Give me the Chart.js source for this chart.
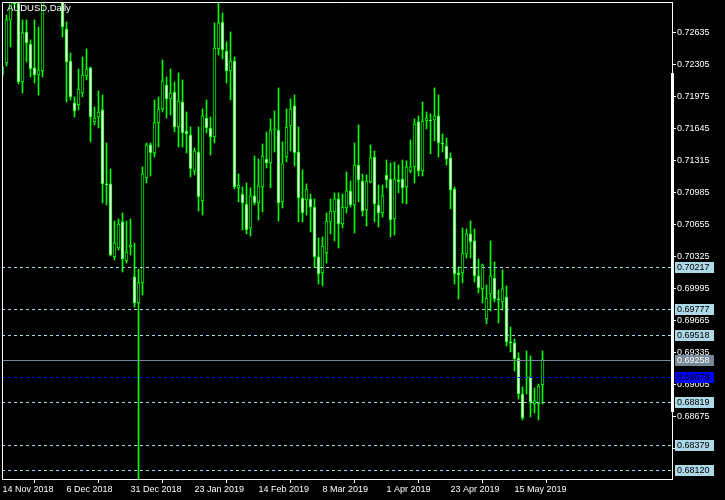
<!DOCTYPE html>
<html>
<head>
<meta charset="utf-8">
<title>AUDUSD Daily</title>
<script src="https://cdn.jsdelivr.net/npm/chart.js@4.4.0/dist/chart.umd.min.js"></script>
<style>
    html, body { margin: 0; padding: 0; background: #000; }
    #wrap { width: 725px; height: 500px; }
</style>
</head>
<body>
<div id="wrap"><canvas id="chart" width="725" height="500"></canvas></div>
<script>
// Chart data (daily candles, 14 Nov 2018 .. 24 May 2019)
const symbolTitle = 'AUDUSD,Daily';

const opens = [
    0.72205, 0.72318, 0.72762, 0.72980, 0.72937, 0.72122, 0.72638, 0.72514, 0.72267, 0.72195,
    0.72236, 0.73160, 0.73120, 0.73300, 0.73650, 0.73200, 0.72669, 0.72339, 0.71906, 0.71885,
    0.72009, 0.72184, 0.72267, 0.71710, 0.71761, 0.71834, 0.71071, 0.71071, 0.70318, 0.70410,
    0.70679, 0.70276, 0.70421, 0.70112, 0.69843, 0.70050, 0.71132, 0.71473, 0.71390, 0.71700,
    0.71844, 0.72091, 0.71947, 0.72019, 0.71658, 0.71916, 0.71617, 0.71576, 0.71204, 0.71400,
    0.70895, 0.71751, 0.71648, 0.71555, 0.72463, 0.72741, 0.72442, 0.72236, 0.72339, 0.71030,
    0.70967, 0.70864, 0.70617, 0.70947, 0.70875, 0.71040, 0.71328, 0.71287, 0.71627, 0.71627,
    0.70885, 0.71349, 0.71669, 0.71875, 0.71400, 0.70926, 0.70906, 0.70916, 0.70833, 0.70318,
    0.70153, 0.70359, 0.70679, 0.70782, 0.70916, 0.70658, 0.70823, 0.70999, 0.70854, 0.71266,
    0.71101, 0.70802, 0.71091, 0.71349, 0.70854, 0.70771, 0.71163, 0.71122, 0.70710, 0.71112,
    0.71122, 0.71040, 0.71204, 0.71246, 0.71710, 0.71204, 0.71720, 0.71730, 0.71730, 0.71772,
    0.71493, 0.71462, 0.71339, 0.71019, 0.70153, 0.70153, 0.70349, 0.70555, 0.70483, 0.70122,
    0.69988, 0.69678, 0.69936, 0.70101, 0.69885, 0.69854, 0.69905, 0.69441, 0.69431, 0.69276,
    0.68905, 0.69080, 0.69080, 0.68802, 0.68802, 0.68998
];
const highs = [
    0.72287, 0.72813, 0.73030, 0.73060, 0.73020, 0.72762, 0.72762, 0.72556, 0.72762, 0.72690,
    0.73250, 0.73360, 0.73300, 0.73940, 0.73800, 0.73300, 0.72741, 0.72421, 0.71968, 0.72256,
    0.72380, 0.72463, 0.72277, 0.71865, 0.72030, 0.71988, 0.71493, 0.71225, 0.70689, 0.70710,
    0.70771, 0.70689, 0.70710, 0.70462, 0.70194, 0.71246, 0.71493, 0.71493, 0.71937, 0.71968,
    0.72349, 0.72174, 0.72256, 0.72122, 0.72215, 0.72143, 0.71813, 0.71658, 0.71442, 0.71658,
    0.71844, 0.71937, 0.71761, 0.72731, 0.72937, 0.72834, 0.72535, 0.72638, 0.72380, 0.71174,
    0.71040, 0.71081, 0.71030, 0.71359, 0.71328, 0.71483, 0.71607, 0.71741, 0.71823, 0.72061,
    0.71504, 0.71844, 0.71947, 0.71988, 0.71658, 0.71215, 0.71071, 0.70967, 0.70916, 0.70514,
    0.70524, 0.70771, 0.70916, 0.70978, 0.70978, 0.70967, 0.71194, 0.71101, 0.71493, 0.71679,
    0.71174, 0.71163, 0.71473, 0.71411, 0.71060, 0.71060, 0.71318, 0.71287, 0.71297, 0.71266,
    0.71318, 0.71308, 0.71524, 0.71741, 0.71772, 0.71916, 0.71813, 0.71792, 0.72061, 0.71988,
    0.71586, 0.71545, 0.71390, 0.71040, 0.70215, 0.70617, 0.70606, 0.70689, 0.70606, 0.70297,
    0.70245, 0.70029, 0.70483, 0.70266, 0.69977, 0.70184, 0.70019, 0.69596, 0.69472, 0.69328,
    0.68977, 0.69348, 0.69297, 0.68967, 0.69008, 0.69348
];
const lows = [
    0.72174, 0.72287, 0.72483, 0.72886, 0.72102, 0.72009, 0.72329, 0.72174, 0.72112, 0.71988,
    0.72174, 0.73020, 0.73000, 0.73250, 0.73050, 0.72586, 0.71916, 0.71937, 0.71761, 0.71834,
    0.71968, 0.72143, 0.71504, 0.71679, 0.71648, 0.70875, 0.70854, 0.70328, 0.70287, 0.70390,
    0.70163, 0.70256, 0.70338, 0.69802, 0.67400, 0.69926, 0.71081, 0.71153, 0.71349, 0.71452,
    0.71813, 0.71751, 0.71782, 0.71607, 0.71452, 0.71452, 0.71390, 0.71143, 0.71163, 0.70792,
    0.70751, 0.71596, 0.71370, 0.71493, 0.72401, 0.72360, 0.72112, 0.71937, 0.71019, 0.70885,
    0.70596, 0.70555, 0.70534, 0.70854, 0.70699, 0.70782, 0.71235, 0.71030, 0.71400, 0.70689,
    0.70823, 0.71297, 0.71411, 0.71256, 0.70679, 0.70679, 0.70751, 0.70575, 0.70215, 0.70039,
    0.70019, 0.70256, 0.70555, 0.70483, 0.70410, 0.70617, 0.70771, 0.70833, 0.70565, 0.70885,
    0.70740, 0.70637, 0.71081, 0.70679, 0.70627, 0.70730, 0.71030, 0.70524, 0.70545, 0.70978,
    0.70875, 0.70864, 0.71184, 0.71081, 0.71153, 0.71153, 0.71638, 0.71380, 0.71514, 0.71349,
    0.71400, 0.71266, 0.70813, 0.70039, 0.69885, 0.70050, 0.70307, 0.70307, 0.70060, 0.69946,
    0.69843, 0.69627, 0.69761, 0.69854, 0.69637, 0.69771, 0.69400, 0.69338, 0.69142, 0.68853,
    0.68637, 0.68905, 0.68668, 0.68709, 0.68637, 0.68802
];
const closes = [
    0.72277, 0.72762, 0.72980, 0.72927, 0.72122, 0.72628, 0.72525, 0.72256, 0.72195, 0.72246,
    0.73160, 0.73120, 0.73100, 0.73650, 0.73200, 0.72690, 0.72329, 0.71968, 0.71823, 0.72050,
    0.72195, 0.72256, 0.71761, 0.71751, 0.71813, 0.71071, 0.71060, 0.70338, 0.70462, 0.70658,
    0.70297, 0.70369, 0.70441, 0.69843, 0.70050, 0.71174, 0.71473, 0.71390, 0.71700, 0.71844,
    0.72133, 0.71947, 0.72009, 0.71658, 0.71926, 0.71596, 0.71586, 0.71225, 0.71411, 0.70937,
    0.71772, 0.71648, 0.71555, 0.72473, 0.72731, 0.72452, 0.72236, 0.72339, 0.71040, 0.71060,
    0.70875, 0.70596, 0.70947, 0.70875, 0.71050, 0.71359, 0.71287, 0.71627, 0.71638, 0.70875,
    0.71277, 0.71658, 0.71844, 0.71390, 0.70926, 0.70771, 0.71019, 0.70833, 0.70318, 0.70143,
    0.70431, 0.70689, 0.70792, 0.70916, 0.70658, 0.70833, 0.70999, 0.70854, 0.71266, 0.71112,
    0.70792, 0.71101, 0.71339, 0.70864, 0.70771, 0.70947, 0.71112, 0.70699, 0.71122, 0.71091,
    0.71030, 0.71246, 0.71246, 0.71689, 0.71204, 0.71720, 0.71751, 0.71720, 0.71772, 0.71493,
    0.71483, 0.71328, 0.71009, 0.70143, 0.70132, 0.70359, 0.70555, 0.70472, 0.70122, 0.69998,
    0.70235, 0.69895, 0.70122, 0.69885, 0.69874, 0.69988, 0.69441, 0.69431, 0.69266, 0.68905,
    0.68658, 0.69070, 0.68822, 0.68833, 0.68987, 0.69258
];

// time axis labels, one every 16 bars
const tickBars = [0, 16, 32, 48, 64, 80, 96, 112, 128];
const tickLabels = ['14 Nov 2018', '6 Dec 2018', '31 Dec 2018', '23 Jan 2019', '14 Feb 2019',
                    '8 Mar 2019', '1 Apr 2019', '23 Apr 2019', '15 May 2019'];

// price scale
const priceTicks = [0.68345, 0.68675, 0.69005, 0.69335, 0.69665, 0.69995, 0.70325,
                    0.70655, 0.70985, 0.71315, 0.71645, 0.71975, 0.72305, 0.72635];
const priceMin = 0.68028;
const priceMax = 0.72947;

// horizontal levels
const dashedLevels = [0.70217, 0.69777, 0.69518, 0.68819, 0.68379, 0.68120];
const bidLevel = 0.69258;
const blueLevel = 0.69078;
const scaleBar = [0.72215, 0.68720];

const GREEN = '#00ff00';
const FONT = 'Liberation Sans';

Chart.defaults.font.family = FONT;
Chart.defaults.font.size = 9;
Chart.defaults.color = '#ffffff';

/**
 * Frame, title, level lines and price labels
 */
const mtPlugin = {
    id: 'mtDecor',
    afterDatasetsDraw(chart) {
        const { ctx, chartArea: a, scales } = chart;
        const y = scales.y;
        ctx.save();
        ctx.lineWidth = 1;

        // dashed levels
        ctx.setLineDash([3, 3]);
        ctx.strokeStyle = '#add8e6';
        dashedLevels.forEach(v => {
            const py = Math.round(y.getPixelForValue(v)) + 0.5;
            ctx.beginPath();
            ctx.moveTo(a.left, py);
            ctx.lineTo(a.right, py);
            ctx.stroke();
        });
        ctx.strokeStyle = '#0000ff';
        let py = Math.round(y.getPixelForValue(blueLevel)) + 0.5;
        ctx.beginPath();
        ctx.moveTo(a.left, py);
        ctx.lineTo(a.right, py);
        ctx.stroke();

        // bid line
        ctx.setLineDash([]);
        ctx.strokeStyle = '#778899';
        py = Math.round(y.getPixelForValue(bidLevel)) + 0.5;
        ctx.beginPath();
        ctx.moveTo(a.left, py);
        ctx.lineTo(a.right, py);
        ctx.stroke();

        // title
        ctx.fillStyle = '#ffffff';
        ctx.font = '9.5px "' + FONT + '"';
        ctx.textBaseline = 'top';
        ctx.textAlign = 'left';
        ctx.fillText(symbolTitle, 7, 4);
        ctx.restore();
    },
    afterDraw(chart) {
        const { ctx, chartArea: a, scales } = chart;
        const y = scales.y;
        ctx.save();

        // frame
        ctx.strokeStyle = '#ffffff';
        ctx.lineWidth = 1;
        ctx.beginPath();
        ctx.moveTo(a.left + 0.5, a.bottom);
        ctx.lineTo(a.left + 0.5, a.top + 0.5);
        ctx.lineTo(a.right + 1, a.top + 0.5);
        ctx.stroke();

        // thick bar on the price scale
        const t = y.getPixelForValue(scaleBar[0]);
        const b = y.getPixelForValue(scaleBar[1]);
        ctx.fillStyle = '#ffffff';
        ctx.fillRect(a.right - 1, Math.round(t), 3, Math.round(b - t));

        // price labels
        const drawLabel = (v, bg, fg) => {
            const p = Math.round(y.getPixelForValue(v));
            ctx.fillStyle = bg;
            ctx.fillRect(a.right + 3, p - 5, 39, 11);
            ctx.fillStyle = fg;
            ctx.font = '9px "' + FONT + '"';
            ctx.textBaseline = 'middle';
            ctx.textAlign = 'left';
            ctx.fillText(v.toFixed(5), a.right + 5, p + 0.5);
        };
        dashedLevels.forEach(v => drawLabel(v, '#add8e6', '#000000'));
        drawLabel(bidLevel, '#778899', '#ffffff');
        drawLabel(blueLevel, '#0000ff', '#000000');
        ctx.restore();
    }
};

// drop the half-label paddings Chart.js reserves at the axis ends
function noPadding(s) {
    s.paddingTop = 0;
    s.paddingBottom = 0;
    s.paddingLeft = 0;
    s.paddingRight = 0;
}

const bodyData = opens.map((o, i) => ({ x: i, y: [Math.min(o, closes[i]), Math.max(o, closes[i])] }));
const wickData = highs.map((h, i) => ({ x: i, y: [lows[i], h] }));
const bodyFill = opens.map((o, i) => closes[i] >= o ? '#000000' : '#ffffff');

new Chart(document.getElementById('chart'), {
    type: 'bar',
    data: {
        datasets: [
            {
                label: 'body',
                data: bodyData,
                backgroundColor: bodyFill,
                borderColor: GREEN,
                borderWidth: 1,
                borderSkipped: false,
                barThickness: 3,
                minBarLength: 1,
                grouped: false,
                order: 0,
                clip: 0
            },
            {
                label: 'wick',
                data: wickData,
                backgroundColor: GREEN,
                borderWidth: 0,
                barThickness: 1,
                grouped: false,
                order: 1,
                clip: 0
            }
        ]
    },
    options: {
        responsive: false,
        animation: false,
        events: [],
        layout: { padding: { left: 2, top: 2, right: 0, bottom: 0 } },
        plugins: {
            legend: { display: false },
            tooltip: { enabled: false }
        },
        scales: {
            x: {
                type: 'linear',
                min: -0.125,
                max: 167.375,
                offset: false,
                afterFit: s => { s.height = 21; noPadding(s); },
                afterBuildTicks: s => { s.ticks = tickBars.map(v => ({ value: v })); },
                ticks: {
                    callback: v => tickLabels[tickBars.indexOf(v)],
                    align: 'start',
                    autoSkip: false,
                    maxRotation: 0,
                    padding: 1,
                    color: '#ffffff'
                },
                grid: { drawOnChartArea: false, tickLength: 4, color: '#ffffff' },
                border: { display: true, color: '#ffffff' }
            },
            y: {
                position: 'right',
                min: priceMin,
                max: priceMax,
                afterFit: s => { s.width = 53; noPadding(s); },
                afterBuildTicks: s => { s.ticks = priceTicks.map(v => ({ value: v })); },
                ticks: {
                    callback: v => v.toFixed(5),
                    padding: 1,
                    color: '#ffffff'
                },
                grid: { drawOnChartArea: false, tickLength: 4, color: '#ffffff' },
                border: { display: true, color: '#ffffff' }
            }
        }
    },
    plugins: [mtPlugin]
});
</script>
</body>
</html>
